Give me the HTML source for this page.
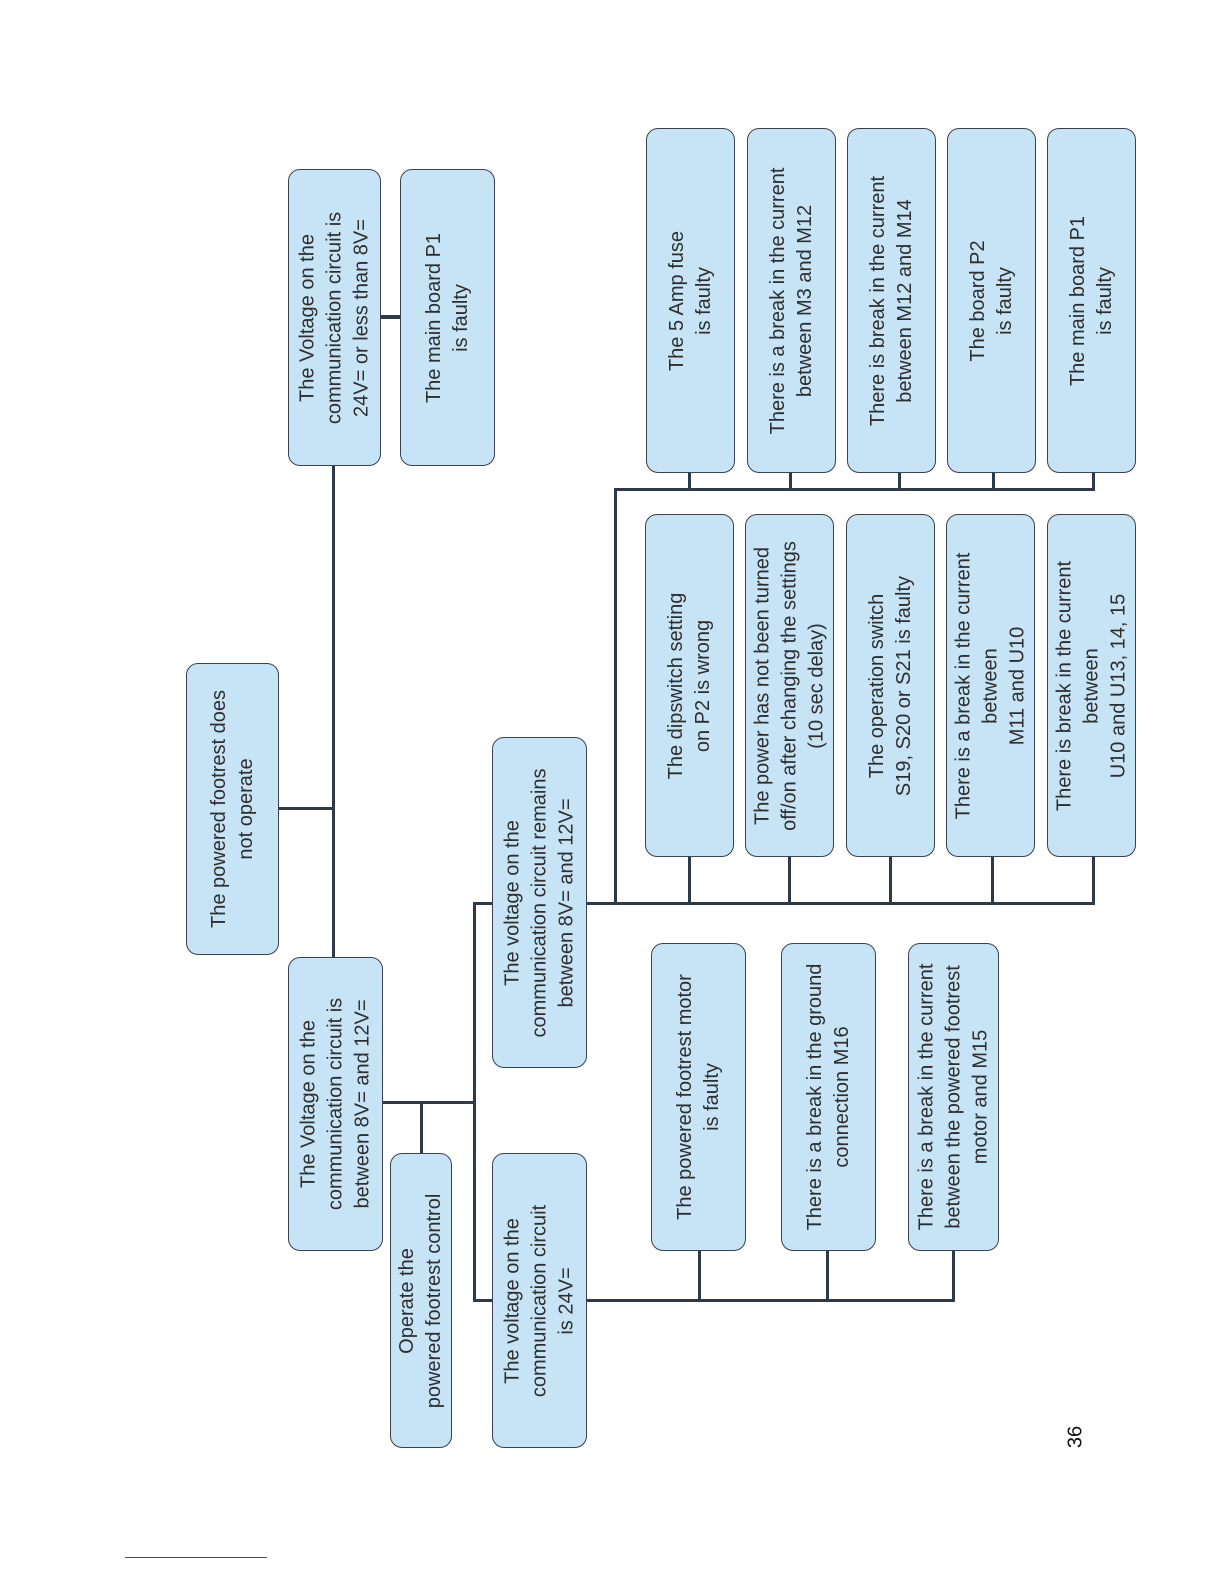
<!DOCTYPE html>
<html><head><meta charset="utf-8"><style>
body{margin:0;background:#fff}
#c{position:relative;width:1224px;height:1584px;overflow:hidden;font-family:"Liberation Sans",sans-serif;color:#2e2e2e}
.b{position:absolute;background:#c6e4f6;border:1.5px solid #3a4250;border-radius:12px;box-sizing:border-box}
.t{position:absolute;left:50%;top:50%;transform:translate(-50%,-50%) rotate(-90deg);text-align:center;font-size:20px;line-height:27px;white-space:nowrap}
.l{position:absolute;background:#2f3a48}
</style></head><body><div id="c">
<div class="b" style="left:186px;top:663px;width:93px;height:292px"><div class="t">The powered footrest does<br>not operate</div></div>
<div class="b" style="left:288px;top:169px;width:93px;height:297px"><div class="t">The Voltage on the<br>communication circuit is<br>24V= or less than 8V=</div></div>
<div class="b" style="left:400px;top:169px;width:95px;height:297px"><div class="t">The main board P1<br>is faulty</div></div>
<div class="b" style="left:288px;top:957px;width:95px;height:294px"><div class="t">The Voltage on the<br>communication circuit is<br>between 8V= and 12V=</div></div>
<div class="b" style="left:390px;top:1153px;width:62px;height:295px"><div class="t">Operate the<br>powered footrest control</div></div>
<div class="b" style="left:492px;top:737px;width:95px;height:331px"><div class="t">The voltage on the<br>communication circuit remains<br>between 8V= and 12V=</div></div>
<div class="b" style="left:492px;top:1153px;width:95px;height:295px"><div class="t">The voltage on the<br>communication circuit<br>is 24V=</div></div>
<div class="b" style="left:651px;top:943px;width:95px;height:308px"><div class="t">The powered footrest motor<br>is faulty</div></div>
<div class="b" style="left:781px;top:943px;width:95px;height:308px"><div class="t">There is a break in the ground<br>connection M16</div></div>
<div class="b" style="left:908px;top:943px;width:91px;height:308px"><div class="t">There is a break in the current<br>between the powered footrest<br>motor and M15</div></div>

<div class="b" style="left:645px;top:514px;width:89px;height:343px"><div class="t">The dipswitch setting<br>on P2 is wrong</div></div>
<div class="b" style="left:745px;top:514px;width:89px;height:343px"><div class="t">The power has not been turned<br>off/on after changing the settings<br>(10 sec delay)</div></div>
<div class="b" style="left:846px;top:514px;width:89px;height:343px"><div class="t">The operation switch<br>S19, S20 or S21 is faulty</div></div>
<div class="b" style="left:946px;top:514px;width:89px;height:343px"><div class="t">There is a break in the current<br>between<br>M11 and U10</div></div>
<div class="b" style="left:1047px;top:514px;width:89px;height:343px"><div class="t">There is break in the current<br>between<br>U10 and U13, 14, 15</div></div>

<div class="b" style="left:646px;top:128px;width:89px;height:345px"><div class="t">The 5 Amp fuse<br>is faulty</div></div>
<div class="b" style="left:747px;top:128px;width:89px;height:345px"><div class="t">There is a break in the current<br>between M3 and M12</div></div>
<div class="b" style="left:847px;top:128px;width:89px;height:345px"><div class="t">There is break in the current<br>between M12 and M14</div></div>
<div class="b" style="left:947px;top:128px;width:89px;height:345px"><div class="t">The board P2<br>is faulty</div></div>
<div class="b" style="left:1047px;top:128px;width:89px;height:345px"><div class="t">The main board P1<br>is faulty</div></div>

<div class="l" style="left:279px;top:807px;width:55px;height:3px"></div>
<div class="l" style="left:332px;top:466px;width:3px;height:491px"></div>
<div class="l" style="left:381px;top:315px;width:19px;height:4px"></div>
<div class="l" style="left:383px;top:1101px;width:92px;height:3px"></div>
<div class="l" style="left:420px;top:1102px;width:3px;height:51px"></div>
<div class="l" style="left:473px;top:902px;width:3px;height:400px"></div>
<div class="l" style="left:474px;top:902px;width:18px;height:3px"></div>
<div class="l" style="left:474px;top:1299px;width:18px;height:3px"></div>
<div class="l" style="left:587px;top:1299px;width:368px;height:3px"></div>
<div class="l" style="left:698px;top:1251px;width:3px;height:50px"></div>
<div class="l" style="left:826px;top:1251px;width:3px;height:50px"></div>
<div class="l" style="left:952px;top:1251px;width:3px;height:50px"></div>
<div class="l" style="left:587px;top:902px;width:508px;height:3px"></div>
<div class="l" style="left:688px;top:857px;width:3px;height:47px"></div>
<div class="l" style="left:788px;top:857px;width:3px;height:47px"></div>
<div class="l" style="left:889px;top:857px;width:3px;height:47px"></div>
<div class="l" style="left:991px;top:857px;width:3px;height:47px"></div>
<div class="l" style="left:1092px;top:857px;width:3px;height:47px"></div>
<div class="l" style="left:614px;top:489px;width:3px;height:415px"></div>
<div class="l" style="left:614px;top:488px;width:481px;height:3px"></div>
<div class="l" style="left:688px;top:473px;width:3px;height:17px"></div>
<div class="l" style="left:789px;top:473px;width:3px;height:17px"></div>
<div class="l" style="left:898px;top:473px;width:3px;height:17px"></div>
<div class="l" style="left:992px;top:473px;width:3px;height:17px"></div>
<div class="l" style="left:1092px;top:473px;width:3px;height:17px"></div>

<div style="position:absolute;left:1076px;top:1437px;transform:translate(-50%,-50%) rotate(-90deg);font-size:20px;color:#111">36</div>
<div style="position:absolute;left:125px;top:1557px;width:142px;height:1px;background:#3050c0"></div>
</div></body></html>
